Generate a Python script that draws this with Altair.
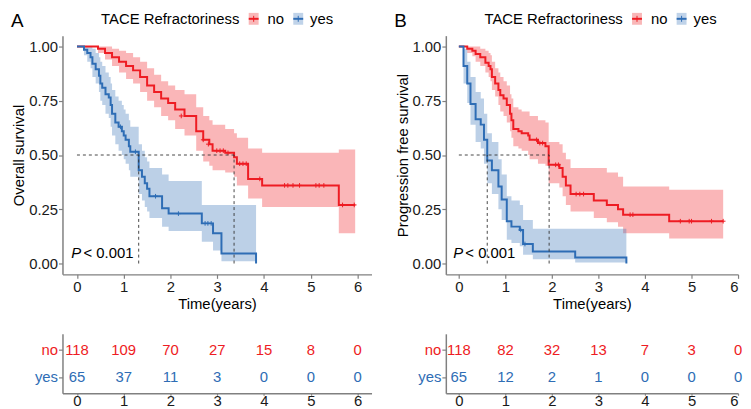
import altair as alt
import pandas as pd

FONT = "Liberation Sans"
RED = "#EE1C23"
BLUE = "#2E6DB5"
RED_KEY = "#F9B7B8"
BLUE_KEY = "#C0D3E9"

GROUPS = ["no", "yes"]
TIMES = [0, 1, 2, 3, 4, 5, 6]
Y_TICKS = [0.0, 0.25, 0.5, 0.75, 1.0]

# ---------------- Panel A : overall survival ----------------
A_no_t = [0, 0.45, 0.6, 0.75, 0.9, 1.05, 1.2, 1.35, 1.5, 1.65, 1.8, 1.95, 2.1, 2.3, 2.55, 2.7, 2.83, 2.9, 3.17, 3.36, 3.42, 3.66, 3.96, 5.6, 5.95]
A_no_s = [1.0, 0.99, 0.97, 0.95, 0.93, 0.91, 0.89, 0.86, 0.82, 0.79, 0.76, 0.74, 0.71, 0.68, 0.61, 0.57, 0.55, 0.52, 0.51, 0.49, 0.46, 0.39, 0.36, 0.27, 0.27]
A_no_lo = [1.0, 0.97, 0.94, 0.91, 0.88, 0.85, 0.83, 0.79, 0.75, 0.72, 0.68, 0.66, 0.62, 0.59, 0.52, 0.47, 0.45, 0.43, 0.42, 0.40, 0.36, 0.30, 0.26, 0.14, 0.14]
A_no_hi = [1.0, 1.0, 1.0, 0.99, 0.98, 0.97, 0.95, 0.93, 0.90, 0.87, 0.84, 0.82, 0.80, 0.78, 0.72, 0.68, 0.66, 0.64, 0.62, 0.60, 0.58, 0.53, 0.51, 0.525, 0.525]

A_yes_t = [0, 0.15, 0.22, 0.29, 0.33, 0.40, 0.47, 0.50, 0.54, 0.61, 0.68, 0.72, 0.75, 0.82, 0.89, 0.96, 1.0, 1.04, 1.11, 1.14, 1.32, 1.39, 1.45, 1.50, 1.55, 1.82, 1.96, 2.67, 2.91, 3.09, 3.83]
A_yes_s = [1.0, 0.985, 0.97, 0.95, 0.92, 0.895, 0.865, 0.83, 0.81, 0.78, 0.765, 0.73, 0.69, 0.65, 0.63, 0.61, 0.59, 0.57, 0.54, 0.515, 0.43, 0.40, 0.37, 0.345, 0.31, 0.255, 0.23, 0.185, 0.14, 0.046, 0.0]
A_yes_lo = [1.0, 0.96, 0.93, 0.90, 0.86, 0.83, 0.79, 0.75, 0.73, 0.69, 0.67, 0.63, 0.59, 0.55, 0.52, 0.50, 0.48, 0.46, 0.43, 0.40, 0.32, 0.29, 0.26, 0.24, 0.21, 0.17, 0.15, 0.10, 0.06, 0.01, 0.01]
A_yes_hi = [1.0, 1.0, 1.0, 1.0, 0.99, 0.97, 0.95, 0.93, 0.91, 0.88, 0.86, 0.83, 0.80, 0.77, 0.75, 0.73, 0.71, 0.69, 0.66, 0.63, 0.55, 0.52, 0.49, 0.47, 0.44, 0.41, 0.38, 0.27, 0.27, 0.27, 0.27]

A_cens_no_t = [2.23, 2.70, 2.81, 2.99, 3.06, 3.13, 3.23, 3.48, 3.55, 3.62, 3.91, 4.44, 4.51, 4.62, 4.76, 5.11, 5.18, 5.28, 5.68, 5.93]
A_cens_no_s = [0.68, 0.57, 0.55, 0.52, 0.52, 0.52, 0.51, 0.46, 0.46, 0.46, 0.39, 0.36, 0.36, 0.36, 0.36, 0.36, 0.36, 0.36, 0.27, 0.27]
A_cens_yes_t = [0.93, 1.25, 1.68, 2.17, 2.74, 2.80, 2.87]
A_cens_yes_s = [0.63, 0.515, 0.31, 0.23, 0.185, 0.185, 0.185]

A_median = [3.36, 1.32]  # no, yes
A_risk_no = [118, 109, 70, 27, 15, 8, 0]
A_risk_yes = [65, 37, 11, 3, 0, 0, 0]

# ---------------- Panel B : progression free survival ----------------
B_no_t = [0, 0.18, 0.29, 0.36, 0.46, 0.57, 0.64, 0.68, 0.71, 0.78, 0.85, 0.89, 0.96, 1.03, 1.10, 1.13, 1.17, 1.28, 1.35, 1.49, 1.52, 1.70, 1.86, 1.93, 2.16, 2.23, 2.30, 2.40, 2.90, 3.18, 3.42, 3.53, 4.52, 5.68]
B_no_s = [1.0, 0.99, 0.98, 0.965, 0.95, 0.925, 0.91, 0.895, 0.86, 0.83, 0.80, 0.775, 0.76, 0.73, 0.69, 0.66, 0.62, 0.61, 0.60, 0.59, 0.57, 0.555, 0.54, 0.455, 0.44, 0.40, 0.36, 0.32, 0.29, 0.27, 0.25, 0.225, 0.195, 0.195]
B_no_lo = [1.0, 0.97, 0.955, 0.93, 0.91, 0.88, 0.86, 0.84, 0.80, 0.77, 0.73, 0.70, 0.68, 0.65, 0.61, 0.58, 0.54, 0.53, 0.52, 0.50, 0.48, 0.46, 0.45, 0.37, 0.35, 0.31, 0.27, 0.24, 0.21, 0.19, 0.17, 0.14, 0.115, 0.115]
B_no_hi = [1.0, 1.0, 1.0, 1.0, 0.99, 0.98, 0.97, 0.96, 0.93, 0.90, 0.88, 0.86, 0.84, 0.82, 0.78, 0.76, 0.72, 0.71, 0.70, 0.70, 0.68, 0.66, 0.65, 0.56, 0.55, 0.51, 0.48, 0.44, 0.44, 0.42, 0.40, 0.355, 0.34, 0.34]

B_yes_t = [0, 0.10, 0.18, 0.25, 0.36, 0.47, 0.54, 0.61, 0.71, 0.85, 0.92, 1.03, 1.13, 1.31, 1.38, 1.59, 2.5, 3.6]
B_yes_s = [1.0, 0.91, 0.83, 0.735, 0.665, 0.64, 0.57, 0.475, 0.43, 0.355, 0.295, 0.195, 0.17, 0.155, 0.09, 0.055, 0.028, 0.0]
B_yes_lo = [1.0, 0.83, 0.74, 0.64, 0.56, 0.53, 0.46, 0.37, 0.32, 0.25, 0.20, 0.11, 0.095, 0.08, 0.04, 0.02, 0.005, 0.005]
B_yes_hi = [1.0, 0.99, 0.93, 0.86, 0.79, 0.76, 0.69, 0.60, 0.56, 0.48, 0.41, 0.31, 0.29, 0.27, 0.20, 0.16, 0.16, 0.16]

B_cens_no_t = [1.67, 1.74, 1.80, 2.08, 2.14, 2.52, 2.60, 2.68, 3.68, 3.74, 4.76, 4.95, 5.0, 5.43, 5.68]
B_cens_no_s = [0.57, 0.555, 0.555, 0.455, 0.455, 0.32, 0.32, 0.32, 0.225, 0.225, 0.195, 0.195, 0.195, 0.195, 0.195]
B_cens_yes_t = [1.33, 1.42]
B_cens_yes_s = [0.155, 0.09]

B_median = [1.94, 0.61]  # no, yes
B_risk_no = [118, 82, 32, 13, 7, 3, 0]
B_risk_yes = [65, 12, 2, 1, 0, 0, 0]

# ---------------- helpers ----------------
color_scale = alt.Scale(domain=GROUPS, range=[RED, BLUE])
YS = alt.Scale(domain=[-0.05, 1.05], nice=False, zero=False)

H, RH = 241, 60


def curves_df(parts):
    frames = []
    for g, (t, s, lo, hi) in parts.items():
        frames.append(pd.DataFrame({"t": t, "s": s, "lo": lo, "hi": hi, "g": g}))
    return pd.concat(frames, ignore_index=True)


def cens_df(parts):
    frames = []
    for g, (t, s) in parts.items():
        frames.append(pd.DataFrame({"t": t, "s": s, "g": g}))
    return pd.concat(frames, ignore_index=True)


def one():
    return pd.DataFrame({"k": [0]})


def km_panel(curves, cens, medians, ytitle, letter, xs, width):
    x = alt.X("t:Q", scale=xs, axis=alt.Axis(values=TIMES, format="d", title="Time(years)", titlePadding=2))
    band = alt.Chart(curves).mark_area(interpolate="step-after", opacity=0.32).encode(
        x=x,
        y=alt.Y("lo:Q", scale=YS, stack=None,
                axis=alt.Axis(values=Y_TICKS, format=".2f", title=ytitle,
                              titleX=-44, titleY=H / 2, titleBaseline="middle",
                              titleAlign="center", titleAngle=270)),
        y2="hi:Q",
        color=alt.Color("g:N", scale=color_scale, legend=None),
    )
    line = alt.Chart(curves).mark_line(interpolate="step-after", strokeWidth=2).encode(
        x=x, y=alt.Y("s:Q", scale=YS), color=alt.Color("g:N", scale=color_scale, legend=None)
    )
    cpts = alt.Chart(cens).mark_point(shape="M-1,0L1,0M0,-1L0,1", size=22, filled=False,
                                      strokeWidth=1, opacity=1).encode(
        x=x, y=alt.Y("s:Q", scale=YS), color=alt.Color("g:N", scale=color_scale, legend=None)
    )
    mmax = max(medians)
    med = pd.DataFrame({
        "x": [0.0] + medians,
        "x2": [mmax] + medians,
        "y": [0.5, 0.0, 0.0],
        "y2": [0.5, 0.5, 0.5],
    })
    rules = alt.Chart(med).mark_rule(strokeDash=[3, 3], color="#333333", strokeWidth=0.9).encode(
        x=alt.X("x:Q", scale=xs), x2="x2:Q", y=alt.Y("y:Q", scale=YS), y2="y2:Q"
    )
    ptxt = alt.Chart(one()).mark_text(text="P", fontStyle="italic", fontSize=15, align="left",
                                      baseline="alphabetic", color="black").encode(
        x=alt.datum(-0.12, scale=xs), y=alt.datum(0.025, scale=YS))
    ptxt2 = alt.Chart(one()).mark_text(text="< 0.001", fontSize=15, align="left",
                                       baseline="alphabetic", color="black").encode(
        x=alt.datum(0.14, scale=xs), y=alt.datum(0.025, scale=YS))

    # manual legend above the plot
    leg_title = alt.Chart(one()).mark_text(text="TACE Refractoriness", fontSize=15, align="left",
                                           baseline="middle", color="black").encode(
        x=alt.value(39), y=alt.value(-17))
    items = []
    for kx, lx, lab, fill, col in [(193, 207, "no", RED_KEY, RED), (238, 250, "yes", BLUE_KEY, BLUE)]:
        items.append(alt.Chart(one()).mark_rect(color=fill).encode(
            x=alt.value(kx - 5), x2=alt.value(kx + 5), y=alt.value(-23), y2=alt.value(-11)))
        items.append(alt.Chart(one()).mark_rule(color=col, strokeWidth=2).encode(
            x=alt.value(kx - 5), x2=alt.value(kx + 5), y=alt.value(-17)))
        items.append(alt.Chart(one()).mark_rule(color=col, strokeWidth=1).encode(
            x=alt.value(kx), y=alt.value(-20), y2=alt.value(-14)))
        items.append(alt.Chart(one()).mark_text(text=lab, fontSize=15, align="left",
                                                baseline="middle", color="black").encode(
            x=alt.value(lx), y=alt.value(-17)))
    letter_t = alt.Chart(one()).mark_text(text=letter, fontSize=19, align="left",
                                          baseline="middle", color="black").encode(
        x=alt.value(-52), y=alt.value(-15))

    return alt.layer(band, line, cpts, rules, ptxt, ptxt2, leg_title, *items, letter_t).properties(
        width=width, height=H)


def risk_panel(no_counts, yes_counts, xs, width):
    df = pd.DataFrame({
        "t": TIMES * 2,
        "n": no_counts + yes_counts,
        "g": ["no"] * len(TIMES) + ["yes"] * len(TIMES),
    })
    lab_color = {"condition": {"test": "datum.value == 'no'", "value": RED}, "value": BLUE}
    return alt.Chart(df).mark_text(fontSize=15, baseline="middle").encode(
        x=alt.X("t:Q", scale=xs, axis=alt.Axis(values=TIMES, format="d", title=None,
                                               tickSize=2, labelBaseline="alphabetic",
                                               labelPadding=10)),
        y=alt.Y("g:N", scale=alt.Scale(domain=GROUPS, type="point", padding=0.6),
                axis=alt.Axis(title=None, labelColor=lab_color)),
        text="n:Q",
        color=alt.Color("g:N", scale=color_scale, legend=None),
    ).properties(width=width, height=RH)


curvesA = curves_df({"no": (A_no_t, A_no_s, A_no_lo, A_no_hi), "yes": (A_yes_t, A_yes_s, A_yes_lo, A_yes_hi)})
censA = cens_df({"no": (A_cens_no_t, A_cens_no_s), "yes": (A_cens_yes_t, A_cens_yes_s)})
curvesB = curves_df({"no": (B_no_t, B_no_s, B_no_lo, B_no_hi), "yes": (B_yes_t, B_yes_s, B_yes_lo, B_yes_hi)})
censB = cens_df({"no": (B_cens_no_t, B_cens_no_s), "yes": (B_cens_yes_t, B_cens_yes_s)})

XA = alt.Scale(domain=[-0.31, 6.3], nice=False, zero=False)
XB = alt.Scale(domain=[-0.28, 6.0], nice=False, zero=False)
WA, WB = 312, 295

panelA = alt.vconcat(km_panel(curvesA, censA, A_median, "Overall survival", "A", XA, WA),
                     risk_panel(A_risk_no, A_risk_yes, XA, WA), spacing=23)
panelB = alt.vconcat(km_panel(curvesB, censB, B_median, "Progression free survival", "B", XB, WB),
                     risk_panel(B_risk_no, B_risk_yes, XB, WB), spacing=23)

chart = alt.hconcat(panelA, panelB, spacing=23).properties(
    padding={"left": 3, "top": 2, "right": 0, "bottom": 0}
).configure(font=FONT, background="white").configure_view(stroke=None).configure_axis(
    grid=False,
    labelFont=FONT, titleFont=FONT,
    labelFontSize=15, titleFontSize=15, titleFontWeight="normal",
    labelColor="#1a1a1a", titleColor="black",
    domainColor="#808080", domainWidth=1.5,
    tickColor="#808080", tickSize=4, tickWidth=1.2,
    labelPadding=1,
)

chart.save("out.html", embed_options={"renderer": "svg", "actions": False})
